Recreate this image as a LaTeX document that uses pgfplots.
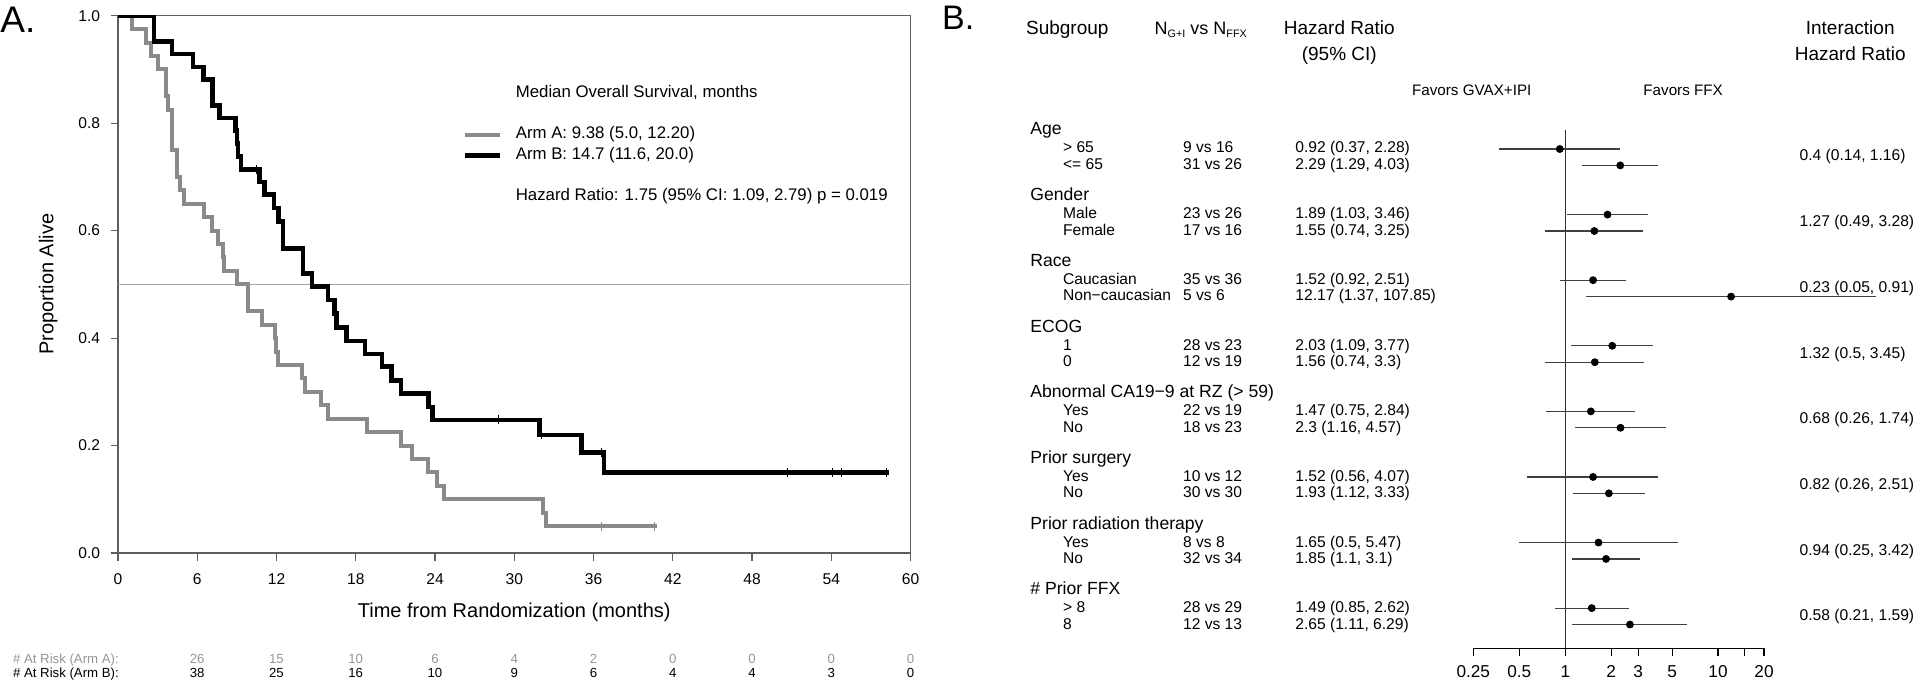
\documentclass[border=0pt]{standalone}
\usepackage{fontspec}
\setmainfont{Liberation Sans}
\usepackage{pgfplots}
\pgfplotsset{compat=1.18}
\definecolor{kmgray}{RGB}{138,138,138}
\definecolor{riskgray}{RGB}{150,150,150}
\definecolor{axgray}{RGB}{95,95,95}
\newcommand{\fH}{\fontsize{9.5}{11}\selectfont}
\newcommand{\fG}{\fontsize{8.8}{10}\selectfont}
\newcommand{\fR}{\fontsize{7.8}{9}\selectfont}
\begin{document}
\begin{tikzpicture}
\useasboundingbox (0pt,0pt) rectangle (957pt,340.5pt);

% ---------------- Panel A: Kaplan-Meier ----------------
\begin{axis}[
  at={(59pt,64pt)}, anchor=south west, scale only axis,
  width=396.25pt, height=268.65pt,
  xmin=0, xmax=60, ymin=0, ymax=1,
  xtick={0,6,12,18,24,30,36,42,48,54,60},
  ytick={0,0.2,0.4,0.6,0.8,1},
  /pgf/number format/assume math mode=true,
  tick align=outside, xtick pos=bottom, ytick pos=left,
  major tick length=3.75pt,
  axis line style={axgray, line width=0.55pt},
  tick style={axgray, line width=0.55pt},
  ticklabel style={font=\fontsize{7.8}{9}\selectfont},
  yticklabel style={inner sep=0pt, xshift=-5pt, /pgf/number format/fixed, /pgf/number format/fixed zerofill, /pgf/number format/precision=1},
  xticklabel style={inner sep=0pt, yshift=-6.5pt},
  xlabel={Time from Randomization (months)},
  ylabel={Proportion Alive},
  label style={font=\fontsize{10}{12}\selectfont},
  xlabel style={at={(axis description cs:0.5,-0.12)}, anchor=base, inner sep=0pt},
  ylabel style={at={(axis description cs:-0.0816,0.5)}, anchor=base, inner sep=0pt},
  legend image code/.code={\draw[#1] (0pt,0pt) -- (17.5pt,0pt);},
  legend style={at={(axis description cs:0.4341,0.8753)}, anchor=north west,
    draw=none, fill=none, inner sep=0pt, row sep=0pt,
    font=\fontsize{8.4}{10}\selectfont,
    nodes={inner sep=0pt, text height=7.2pt, text depth=3.15pt},
    /tikz/every odd column/.append style={column sep=7pt}},
  legend cell align=left,
]
\addplot[forget plot, black!35, line width=0.5pt] coordinates {(0,0.5) (60,0.5)};

% Arm A (grey)
\addplot[forget plot, const plot, draw=kmgray, line width=2pt] coordinates {
 (0,1) (1.03,0.975) (2.1,0.95) (2.47,0.925) (3.05,0.9) (3.6,0.85) (3.75,0.825)
 (4.06,0.75) (4.44,0.70) (4.7,0.675) (5.0,0.65) (6.5,0.625) (7.15,0.60) (7.6,0.575)
 (7.95,0.55) (8.05,0.525) (9.04,0.50) (9.87,0.45) (10.93,0.425) (11.85,0.40)
 (11.95,0.375) (12.15,0.35) (13.96,0.325) (14.17,0.30) (15.4,0.275) (15.93,0.25)
 (18.84,0.225) (21.44,0.20) (22.25,0.175) (23.5,0.15) (24.14,0.125) (24.7,0.10)
 (32.2,0.075) (32.4,0.05) (40.8,0.05)};
% Arm B (black)
\addplot[forget plot, const plot, draw=black, line width=2.2pt] coordinates {
 (0,1) (2.73,0.952) (4.07,0.929) (5.66,0.905) (6.46,0.881) (7.15,0.833) (7.68,0.81)
 (8.9,0.786) (9.0,0.762) (9.1,0.738) (9.3,0.714) (10.7,0.69) (11.08,0.667)
 (11.8,0.642) (12.15,0.617) (12.5,0.567) (14.0,0.52) (14.67,0.496) (15.9,0.471)
 (16.4,0.446) (16.55,0.42) (17.3,0.395) (18.7,0.37) (19.97,0.347) (20.7,0.321)
 (21.44,0.297) (23.5,0.272) (23.8,0.248) (31.9,0.22) (35.1,0.187) (36.8,0.15)
 (58.4,0.15)};
% censoring marks
\addplot[forget plot, only marks, mark=|, mark size=2.3pt, mark options={draw=kmgray, line width=0.5pt}]
 coordinates {(36.6,0.05) (40.6,0.05)};
\addplot[forget plot, only marks, mark=|, mark size=2.3pt, mark options={draw=black, line width=0.5pt}]
 coordinates {(10.5,0.714) (28.8,0.248) (32.1,0.22) (36.6,0.187) (50.7,0.15) (54.1,0.15) (54.8,0.15) (58.2,0.15)};

\addlegendimage{empty legend}\addlegendentry{Median Overall Survival, months}
\addlegendimage{empty legend}\addlegendentry{}
\addlegendimage{kmgray, line width=2pt}\addlegendentry{Arm A: 9.38 (5.0, 12.20)}
\addlegendimage{black, line width=2.2pt}\addlegendentry{Arm B: 14.7 (11.6, 20.0)}
\addlegendimage{empty legend}\addlegendentry{}
\addlegendimage{empty legend}\addlegendentry{Hazard Ratio: 1.75 (95\% CI: 1.09, 2.79) p = 0.019}
\end{axis}

% ---------------- Panel B: forest plot ----------------
\begin{axis}[
  at={(736.65pt,16.35pt)}, anchor=south west, scale only axis,
  width=145.35pt, height=259.15pt,
  xmode=log, xmin=0.25, xmax=20,
  ymin=-1.16, ymax=30.45, y dir=reverse,
  axis x line*=bottom, axis y line=none,
  xtick={0.25,0.5,1,2,3,5,10,15,20},
  xticklabels={0.25,0.5,1,2,3,5,10,,20},
  minor xtick={},
  tick align=outside, major tick length=4pt,
  axis line style={black, line width=0.55pt},
  tick style={black, line width=0.55pt},
  xticklabel style={font=\fontsize{8.6}{10}\selectfont, inner sep=0pt, yshift=-4.5pt},
  clip=false, unbounded coords=jump,
]
\addplot[black!80, line width=0.6pt] coordinates {(1,-1.16) (1,30.45)};
\addplot[black!75, line width=0.6pt] table[x=x, y=y] {
x y
0.37 0
2.28 0
nan nan
1.29 1
4.03 1
nan nan
1.03 4
3.46 4
nan nan
0.74 5
3.25 5
nan nan
0.92 8
2.51 8
nan nan
1.37 9
107.85 9
nan nan
1.09 12
3.77 12
nan nan
0.74 13
3.3 13
nan nan
0.75 16
2.84 16
nan nan
1.16 17
4.57 17
nan nan
0.56 20
4.07 20
nan nan
1.12 21
3.33 21
nan nan
0.5 24
5.47 24
nan nan
1.1 25
3.1 25
nan nan
0.85 28
2.62 28
nan nan
1.11 29
6.29 29
};
\addplot[only marks, mark=*, mark size=1.75pt, black] table[x=x, y=y] {
x y
0.92 0
2.29 1
1.89 4
1.55 5
1.52 8
12.17 9
2.03 12
1.56 13
1.47 16
2.3 17
1.52 20
1.93 21
1.65 24
1.85 25
1.49 28
2.65 29
};
\end{axis}

% ---------------- Text ----------------
\begin{scope}[x=0.5pt, y=-0.5pt, shift={(0pt,340.5pt)},
  t/.style={anchor=base west, inner sep=0pt},
  c/.style={anchor=base, inner sep=0pt}]
\node[t, font=\fontsize{18.5}{20}\selectfont] at (0,33) {A.};
\node[t, font=\fontsize{17}{19}\selectfont] at (941.7,30) {B.};

% at risk
\node[t, font=\fontsize{6.6}{8}\selectfont, text=riskgray] at (12.7,663) {\# At Risk (Arm A):};
\node[t, font=\fontsize{6.6}{8}\selectfont] at (12.7,677.5) {\# At Risk (Arm B):};
\foreach \tm/\na/\nb in {6/26/38, 12/15/25, 18/10/16, 24/6/10, 30/4/9, 36/2/6, 42/0/4, 48/0/4, 54/0/3, 60/0/0} {
  \node[c, font=\fontsize{6.6}{8}\selectfont, text=riskgray] at ({118+13.208*\tm},663) {\na};
  \node[c, font=\fontsize{6.6}{8}\selectfont] at ({118+13.208*\tm},677.5) {\nb};
}

% headers
\node[t, font=\fH] at (1025.7,35) {Subgroup};
\node[t, font=\fontsize{9}{10}\selectfont] at (1154.3,35) {N\raisebox{-1.5pt}{\fontsize{5.4}{6}\selectfont G+I} vs N\raisebox{-1.5pt}{\fontsize{5.4}{6}\selectfont FFX}};
\node[c, font=\fH] at (1339.3,35) {Hazard Ratio};
\node[c, font=\fH] at (1339.3,61) {(95\% CI)};
\node[c, font=\fH] at (1850.2,35) {Interaction};
\node[c, font=\fH] at (1850.2,61) {Hazard Ratio};
\node[t, font=\fontsize{7.6}{9}\selectfont] at (1411.7,96) {Favors GVAX+IPI};
\node[t, font=\fontsize{7.6}{9}\selectfont] at (1643,96) {Favors FFX};

% rows: group g has header baseline 135+65.7g
\foreach \g/\name/\la/\na/\ha/\lb/\nb/\hb/\ih in {
  0/Age/{> 65}/{9 vs 16}/{0.92 (0.37, 2.28)}/{<= 65}/{31 vs 26}/{2.29 (1.29, 4.03)}/{0.4 (0.14, 1.16)},
  1/Gender/Male/{23 vs 26}/{1.89 (1.03, 3.46)}/Female/{17 vs 16}/{1.55 (0.74, 3.25)}/{1.27 (0.49, 3.28)},
  2/Race/Caucasian/{35 vs 36}/{1.52 (0.92, 2.51)}/{Non−caucasian}/{5 vs 6}/{12.17 (1.37, 107.85)}/{0.23 (0.05, 0.91)},
  3/ECOG/1/{28 vs 23}/{2.03 (1.09, 3.77)}/0/{12 vs 19}/{1.56 (0.74, 3.3)}/{1.32 (0.5, 3.45)},
  4/{Abnormal CA19−9 at RZ (> 59)}/Yes/{22 vs 19}/{1.47 (0.75, 2.84)}/No/{18 vs 23}/{2.3 (1.16, 4.57)}/{0.68 (0.26, 1.74)},
  5/{Prior surgery}/Yes/{10 vs 12}/{1.52 (0.56, 4.07)}/No/{30 vs 30}/{1.93 (1.12, 3.33)}/{0.82 (0.26, 2.51)},
  6/{Prior radiation therapy}/Yes/{8 vs 8}/{1.65 (0.5, 5.47)}/No/{32 vs 34}/{1.85 (1.1, 3.1)}/{0.94 (0.25, 3.42)},
  7/{\# Prior FFX}/{> 8}/{28 vs 29}/{1.49 (0.85, 2.62)}/8/{12 vs 13}/{2.65 (1.11, 6.29)}/{0.58 (0.21, 1.59)}} {
  \pgfmathsetmacro{\B}{135+65.7*\g}
  \node[t, font=\fG] at (1030,\B) {\name};
  \node[t, font=\fR] at (1062.7,\B+17.9) {\la};
  \node[t, font=\fR] at (1182.7,\B+17.9) {\na};
  \node[t, font=\fR] at (1295,\B+17.9) {\ha};
  \node[t, font=\fR] at (1062.7,\B+34.4) {\lb};
  \node[t, font=\fR] at (1182.7,\B+34.4) {\nb};
  \node[t, font=\fR] at (1295,\B+34.4) {\hb};
  \node[t, font=\fR] at (1799.3,\B+26) {\ih};
}
\end{scope}
\end{tikzpicture}
\end{document}
